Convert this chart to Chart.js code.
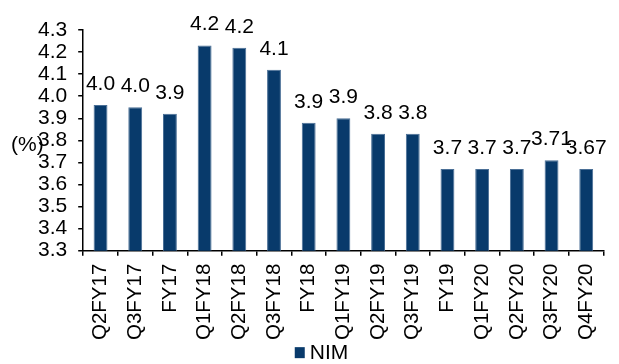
<!DOCTYPE html>
<html>
<head>
<meta charset="utf-8">
<script src="https://cdn.jsdelivr.net/npm/chart.js@4"></script>
<style>
  body { margin: 0; background: #fff; }
  #wrap { width: 619px; height: 364px; }
</style>
</head>
<body>
<div id="wrap"><canvas id="nim-chart" width="619" height="364"></canvas></div>
<script>
// Net interest margin by period
const periods = ['Q2FY17', 'Q3FY17', 'FY17', 'Q1FY18', 'Q2FY18', 'Q3FY18', 'FY18',
                 'Q1FY19', 'Q2FY19', 'Q3FY19', 'FY19', 'Q1FY20', 'Q2FY20', 'Q3FY20', 'Q4FY20'];
const nimValues = [3.96, 3.95, 3.92, 4.23, 4.22, 4.12, 3.88, 3.90, 3.83, 3.83, 3.67, 3.67, 3.67, 3.71, 3.67];
// decimals shown in each bar's label
const labelDecimals = [1, 1, 1, 1, 1, 1, 1, 1, 1, 1, 1, 1, 1, 2, 2];
const yMin = 3.3, yMax = 4.3, yStep = 0.1;

const FONT = '"Liberation Sans", Arial, sans-serif';
const BAR_COLOR = '#083a6b';
Chart.defaults.font.family = FONT;
Chart.defaults.color = '#000';

// value labels above the bars, the "(%)" unit text and the legend key
// (the legend runs off the bottom edge, so it's drawn here instead of the clipped built-in one)
const barLabels = {
    id: 'barLabels',
    afterDraw(chart) {
        const ctx = chart.ctx;
        const meta = chart.getDatasetMeta(0);
        const area = chart.chartArea;
        ctx.save();
        ctx.font = '21px ' + FONT;
        ctx.fillStyle = '#000';
        ctx.textAlign = 'center';
        ctx.textBaseline = 'alphabetic';
        meta.data.forEach((bar, i) => {
            ctx.fillText(nimValues[i].toFixed(labelDecimals[i]), bar.x, bar.y - 15);
        });

        ctx.textAlign = 'left';
        ctx.textBaseline = 'middle';
        ctx.fillText('(%)', 11, area.top + (area.bottom - area.top) * 0.52);

        // legend key
        const name = chart.data.datasets[0].label;
        const textW = ctx.measureText(name).width;
        const keyW = 10 + 5 + textW;
        const kx = chart.width / 2 + 12 - keyW / 2;
        const ky = area.bottom + 102;
        ctx.fillStyle = BAR_COLOR;
        ctx.fillRect(kx, ky - 5.5, 10, 11);
        ctx.fillStyle = '#000';
        ctx.fillText(name, kx + 15, ky + 1);
        ctx.restore();
    }
};

const ctx = document.getElementById('nim-chart').getContext('2d');
new Chart(ctx, {
    type: 'bar',
    data: {
        labels: periods,
        datasets: [{
            label: 'NIM',
            data: nimValues,
            backgroundColor: BAR_COLOR,
            borderColor: '#4a6f96',
            borderWidth: 1,
            barPercentage: 0.4,
            categoryPercentage: 1.0
        }]
    },
    options: {
        responsive: false,
        animation: false,
        layout: { padding: { top: 30, left: 27, right: 5, bottom: 16 } },
        scales: {
            x: {
                offset: true,
                grid: { offset: true, drawOnChartArea: false, drawTicks: true, tickLength: 5, color: '#000', lineWidth: 1.5 },
                border: { color: '#000', width: 1.5 },
                ticks: { autoSkip: false, minRotation: 90, maxRotation: 90, padding: 8, font: { size: 20.5 }, color: '#000' }
            },
            y: {
                min: yMin,
                max: yMax,
                grid: { drawOnChartArea: false, drawTicks: true, tickLength: 5, color: '#000', lineWidth: 1.5 },
                border: { color: '#000', width: 1.5 },
                ticks: {
                    stepSize: yStep,
                    autoSkip: false,
                    padding: 11,
                    font: { size: 21 },
                    color: '#000',
                    callback: v => Number(v).toFixed(1)
                }
            }
        },
        plugins: {
            legend: { display: false },
            tooltip: { enabled: false }
        }
    },
    plugins: [barLabels]
});
</script>
</body>
</html>
